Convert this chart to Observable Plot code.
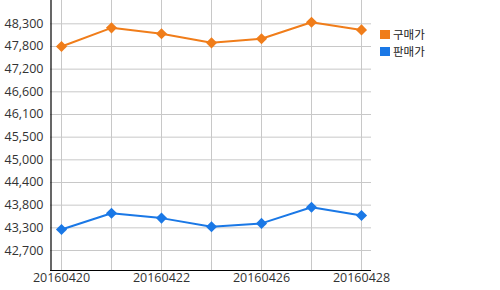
<!DOCTYPE html>
<html><head><meta charset="utf-8">
<script src="https://cdn.jsdelivr.net/npm/d3@7"></script>
<script src="https://cdn.jsdelivr.net/npm/@observablehq/plot@0.6"></script>
<style>
body{margin:0;background:#fff;font-family:"Open Sans","Noto Sans CJK KR",sans-serif;}
#wrap{position:relative;width:500px;height:290px;}
#chart svg{overflow:visible;}
#legend{position:absolute;left:380px;top:26px;font-size:11.5px;line-height:15px;color:#222;font-family:"Noto Sans CJK KR","Open Sans",sans-serif;}
.li{display:flex;align-items:center;height:17px;}
.li span{line-height:15px;display:block;}
.sw{width:10px;height:9px;margin-right:3px;}
</style></head>
<body><div id="wrap"><div id="chart"></div><div id="legend"></div></div>
<script>
const dates = ["20160420","20160421","20160422","20160425","20160426","20160427","20160428"];
const xTickLabels = ["20160420","20160422","20160426","20160428"];
const buyPrice = [47740, 48200, 48055, 47830, 47930, 48340, 48150];
const sellPrice = [43220, 43620, 43500, 43285, 43370, 43770, 43565];
const seriesNames = ["구매가","판매가"];
const seriesColors = ["#f07d1a","#1a78e6"];
const yTickValues = [42700, 43260, 43820, 44380, 44940, 45500, 46060, 46620, 47180, 47740, 48300];
const yTickLabels = ["42,700","43,300","43,800","44,400","45,000","45,500","46,100","46,600","47,200","47,800","48,300"];
const yDomain = [42206, 48876];

const data = [];
dates.forEach((d,i)=>{
  data.push({date:d, value:buyPrice[i], series:seriesNames[0]});
  data.push({date:d, value:sellPrice[i], series:seriesNames[1]});
});
const labelOf = new Map(yTickValues.map((v,i)=>[v,yTickLabels[i]]));

const chart = Plot.plot({
  width: 380, height: 290,
  marginLeft: 50, marginRight: 9, marginTop: 0, marginBottom: 20,
  style: {fontFamily: '"Open Sans", sans-serif', fontSize: "12.5px", color: "#333", background: "transparent", overflow: "visible"},
  x: {type: "point", domain: dates, padding: 0.21, label: null},
  y: {domain: yDomain, label: null},
  color: {domain: seriesNames, range: seriesColors},
  marks: [
    Plot.gridX(dates, {stroke: "#c8c8c8", strokeOpacity: 1, strokeWidth: 1}),
    Plot.gridY(yTickValues, {stroke: "#c8c8c8", strokeOpacity: 1, strokeWidth: 1}),
    Plot.axisY(yTickValues, {tickSize: 0, tickPadding: 7, tickFormat: v => labelOf.get(v), fill: "#333"}),
    Plot.axisX(xTickLabels, {tickSize: 0, tickPadding: 3, fill: "#333"}),
    Plot.ruleX([dates[0]], {dx: -10.5, stroke: "#000", strokeWidth: 1.2}),
    Plot.ruleY([yDomain[0]], {stroke: "#000", strokeWidth: 1.2}),
    Plot.line(data, {x: "date", y: "value", z: "series", stroke: "series", strokeWidth: 2}),
    Plot.dot(data, {x: "date", y: "value", fill: "series", symbol: "diamond2", r: 5, stroke: "none"})
  ]
});
chart.style.overflow = "visible";
document.getElementById("chart").appendChild(chart);

const lg = document.getElementById("legend");
seriesNames.forEach((n,i)=>{
  const row = document.createElement("div"); row.className="li";
  const sw = document.createElement("div"); sw.className="sw"; sw.style.background = seriesColors[i];
  const t = document.createElement("span"); t.textContent = n;
  row.appendChild(sw); row.appendChild(t); lg.appendChild(row);
});
</script></body></html>
